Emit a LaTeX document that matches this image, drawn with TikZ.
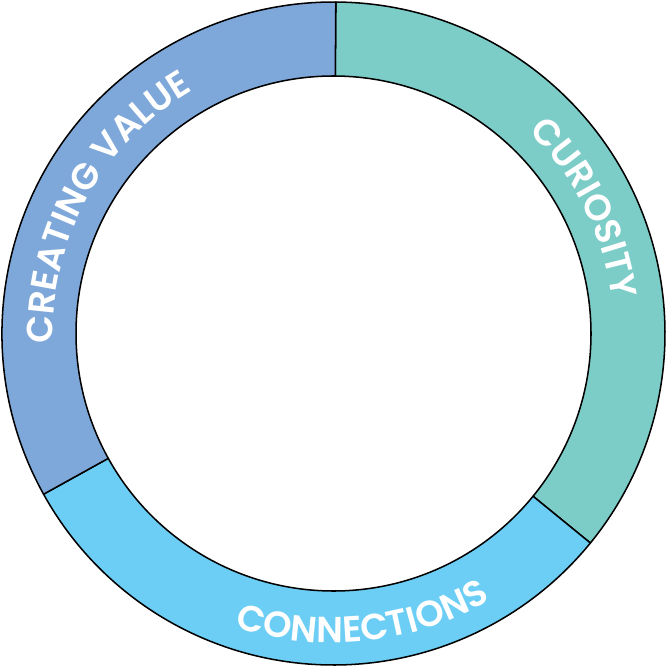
\documentclass[tikz,border=0pt]{standalone}
\usepackage{fontspec}
\setmainfont{Poppins}[BoldFont={Poppins SemiBold}]
\usetikzlibrary{decorations.text}

\definecolor{curiosityteal}{RGB}{124,204,200}
\definecolor{connectblue}{RGB}{109,206,245}
\definecolor{valueblue}{RGB}{127,168,218}

\newcommand{\ringfont}{\color{white}\fontsize{31}{31}\selectfont\bfseries}

\begin{document}
\begin{tikzpicture}[
      segment/.style={draw=black, line width=1.3pt, line join=round},
      outlabel/.style={decorate, decoration={text along path, text align=center, text={|\ringfont|#1}}},
    ]
    \useasboundingbox (-10.005,-9.975) rectangle (9.975,10.005);
    \coordinate (centre) at (0,0);

    % ring segments
    \filldraw[segment, fill=curiosityteal] (89.6:9.945) arc[start angle=89.6, end angle=-39.2, radius=9.945cm]
      -- (-39.2:7.725) arc[start angle=-39.2, end angle=89.6, radius=7.725cm] -- cycle;
    \filldraw[segment, fill=connectblue] (-39.2:9.945) arc[start angle=-39.2, end angle=-151, radius=9.945cm]
      -- (-151:7.725) arc[start angle=-151, end angle=-39.2, radius=7.725cm] -- cycle;
    \filldraw[segment, fill=valueblue] (209:9.945) arc[start angle=209, end angle=89.6, radius=9.945cm]
      -- (89.6:7.725) arc[start angle=89.6, end angle=209, radius=7.725cm] -- cycle;

    % labels along the ring
    \path[outlabel=CURIOSITY] (66.5:8.42) arc[start angle=66.5, end angle=-13.5, radius=8.42cm];
    \path[outlabel=CREATING VALUE] (211:8.42) arc[start angle=211, end angle=91, radius=8.42cm];
    \path[outlabel=CONNECTIONS] (-134:9.28) arc[start angle=-134, end angle=-34, radius=9.28cm];
  \end{tikzpicture}
\end{document}
